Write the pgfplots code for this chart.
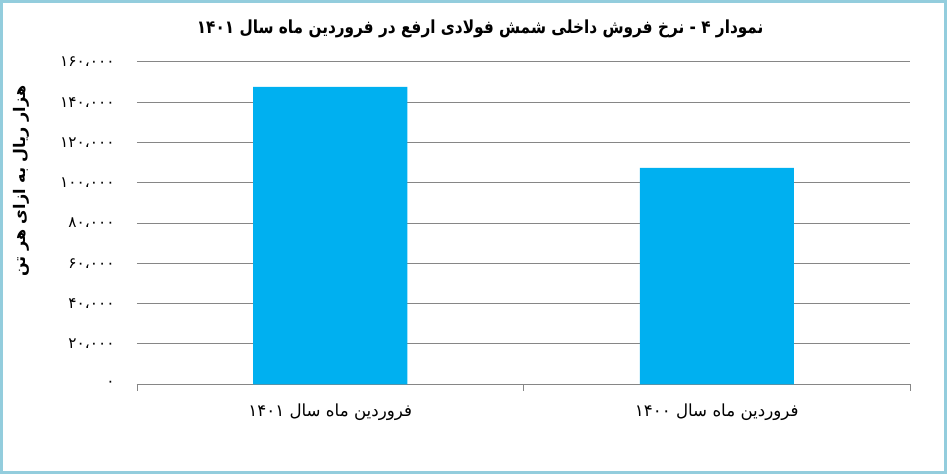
\documentclass[border=0pt]{standalone}
\usepackage{fontspec}
\usepackage{pgfplots}
\pgfplotsset{compat=1.18}
\TeXXeTstate=1
\newfontfamily\arabicfont[Script=Arabic]{DejaVu Sans}
\newfontfamily\titlefont[Script=Arabic, FakeStretch=0.85]{DejaVu Sans}
\definecolor{barblue}{HTML}{00B0F0}
\definecolor{gridgray}{HTML}{868686}
\definecolor{framecol}{HTML}{93CDDD}

\begin{document}
\begin{tikzpicture}
\useasboundingbox (0,0) rectangle (710.25pt,355.5pt);
\fill[white] (0,0) rectangle (710.25pt,355.5pt);
\draw[framecol, line width=2.25pt] (1.125pt,1.125pt) rectangle (709.125pt,354.375pt);
\begin{axis}[
    at={(102.75pt,67.3pt)}, anchor=south west,
    scale only axis,
    width=579.75pt, height=241.7pt,
    xmin=-0.5, xmax=1.5,
    ymin=0, ymax=160000,
    scaled y ticks=false,
    axis x line*=bottom, axis y line*=left,
    x axis line style={gridgray, line width=0.75pt},
    y axis line style={draw=none},
    ymajorgrids,
    grid style={gridgray, line width=0.75pt},
    ytick={0,20000,40000,60000,80000,100000,120000,140000,160000},
    yticklabels={۰,۲۰،۰۰۰,۴۰،۰۰۰,۶۰،۰۰۰,۸۰،۰۰۰,۱۰۰،۰۰۰,۱۲۰،۰۰۰,۱۴۰،۰۰۰,۱۶۰،۰۰۰},
    ytick style={draw=none},
    yticklabel style={font=\arabicfont\fontsize{11.5}{13}\selectfont, xshift=-9pt},
    xtick={0,1},
    xticklabels={{\beginR فروردین ماه سال ۱۴۰۱\endR},{\beginR فروردین ماه سال ۱۴۰۰\endR}},
    major x tick style={draw=none},
    minor xtick={-0.5,0.5,1.5},
    minor x tick style={gridgray, line width=0.6pt},
    minor tick length=5pt,
    tick align=outside,
    xticklabel style={font=\arabicfont\fontsize{12.5}{14}\selectfont, anchor=center, yshift=-17pt},
    title={\beginR نمودار ۴ - نرخ فروش داخلی شمش فولادی ارفع در فروردین ماه سال ۱۴۰۱\endR},
    title style={font=\titlefont\bfseries\fontsize{13.5}{16}\selectfont, at={(axis description cs:0.444,1.078)}, anchor=center},
    ylabel={\beginR هزار ریال به ازای هر تن\endR},
    ylabel style={font=\arabicfont\bfseries\fontsize{12}{14}\selectfont, at={(axis description cs:-0.149,0.63)}, anchor=center},
  ]
  \addplot[ybar, bar width=115.5pt, bar shift=0pt, fill=barblue, draw=none]
    coordinates {(0,147600) (1,107400)};
\end{axis}
\end{tikzpicture}
\end{document}
